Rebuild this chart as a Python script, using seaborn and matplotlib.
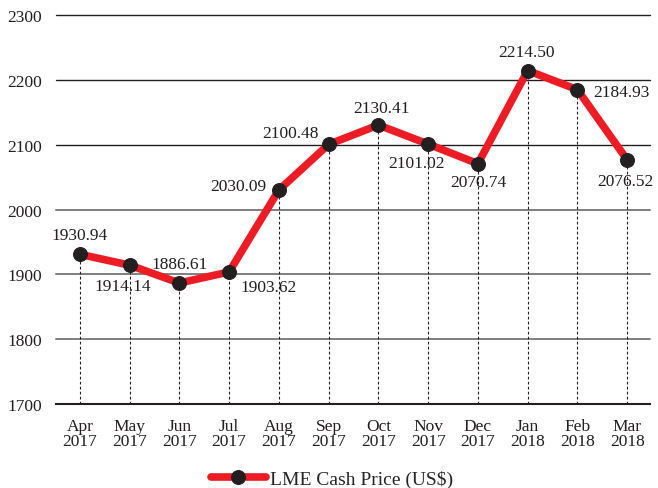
import pandas as pd
import matplotlib.pyplot as plt
import seaborn as sns

# data
months = ['Apr\n2017', 'May\n2017', 'Jun\n2017', 'Jul\n2017', 'Aug\n2017', 'Sep\n2017',
          'Oct\n2017', 'Nov\n2017', 'Dec\n2017', 'Jan\n2018', 'Feb\n2018', 'Mar\n2018']
prices = [1930.94, 1914.14, 1886.61, 1903.62, 2030.09, 2100.48,
          2130.41, 2101.02, 2070.74, 2214.50, 2184.93, 2076.52]
y_ticks = [1700, 1800, 1900, 2000, 2100, 2200, 2300]

# label offsets (pixels) relative to each point
label_offsets = [(0, 19), (-7, -21), (0, 19), (39, -15), (-41, 4), (-38, 11),
                 (3, 17), (-12, -19), (0, -18), (-1, 19), (44, -2), (-2, -21)]

df = pd.DataFrame({'pos': range(len(months)), 'price': prices})

sns.set_style("white")
plt.rcParams['font.family'] = ['Liberation Serif', 'DejaVu Serif']
dark = '#231f20'

fig = plt.figure(figsize=(6.58, 4.89), dpi=100)
ax = fig.add_axes([0.085, 0.172, 0.903, 0.795])

# dotted drop lines
ax.vlines(df['pos'], 1700, df['price'], colors=dark, linestyles=(0, (2.5, 2)), lw=0.8, zorder=2)

sns.lineplot(data=df, x='pos', y='price', ax=ax, color='#ed1c24', lw=5.5,
             marker='o', markersize=10, markerfacecolor=dark, markeredgecolor=dark,
             label='LME Cash Price (US$)', zorder=3, legend=False)

for i, (v, off) in enumerate(zip(prices, label_offsets)):
    ax.annotate(f'{v:.2f}', (i, v), xytext=off, textcoords='offset pixels',
                ha='center', va='center', fontsize=12.5, color=dark, zorder=4)

ax.set_xlim(-0.48, 11.46)
ax.set_ylim(1700, 2300)
ax.set_yticks(y_ticks)
ax.set_xticks(range(len(months)))
ax.set_xticklabels(months, fontsize=12.5, color=dark, linespacing=0.95)
ax.tick_params(axis='y', labelsize=12.5, colors=dark, length=0, pad=10)
ax.tick_params(axis='x', length=0, pad=10)
ax.set_xlabel('')
ax.set_ylabel('')

ax.grid(axis='y')
for t, gl in zip(ax.get_yticks(), ax.get_ygridlines()):
    gl.set_clip_on(False)
    if t >= 2100:
        gl.set_color(dark)
        gl.set_linewidth(1.0)
    else:
        gl.set_color('#7f7f7f')
        gl.set_linewidth(1.4)
for s in ['left', 'right', 'top']:
    ax.spines[s].set_visible(False)
ax.spines['bottom'].set_color(dark)
ax.spines['bottom'].set_linewidth(1.5)

h, l = ax.get_legend_handles_labels()
fig.legend(h, l, loc='lower center', bbox_to_anchor=(0.505, -0.035), frameon=False,
           fontsize=14, handlelength=2.8, handletextpad=0.25)

plt.savefig('out.png', dpi=100)
